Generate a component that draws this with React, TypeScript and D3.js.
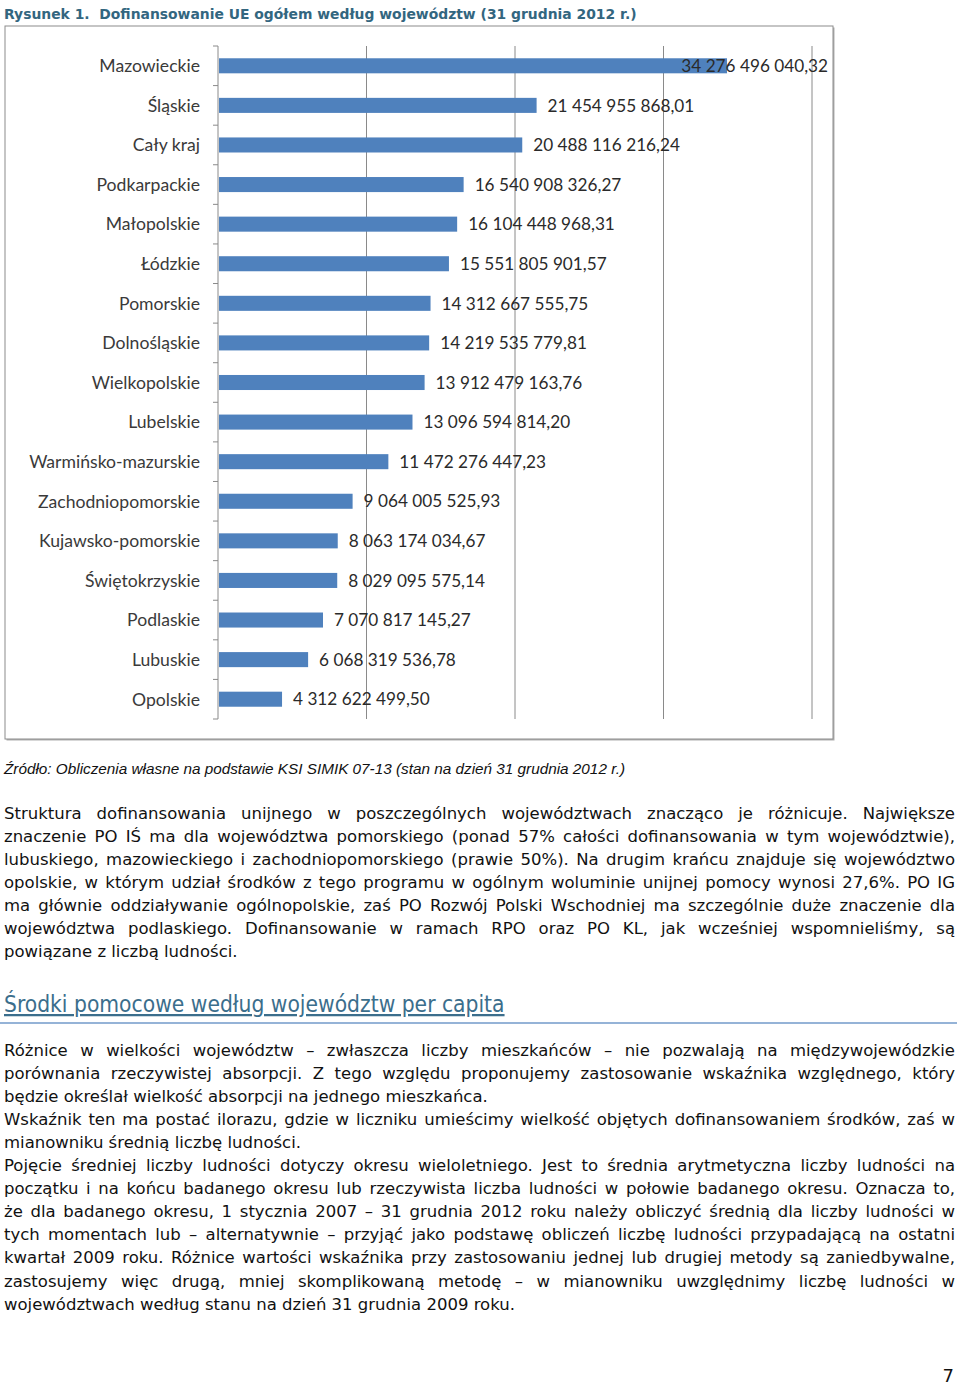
import React from 'react';
import * as d3 from 'd3';

// --- data ---
const regions = [
  'Mazowieckie', 'Śląskie', 'Cały kraj', 'Podkarpackie', 'Małopolskie', 'Łódzkie',
  'Pomorskie', 'Dolnośląskie', 'Wielkopolskie', 'Lubelskie', 'Warmińsko-mazurskie',
  'Zachodniopomorskie', 'Kujawsko-pomorskie', 'Świętokrzyskie', 'Podlaskie', 'Lubuskie', 'Opolskie'
];
const funding = [
  34276496040.32, 21454955868.01, 20488116216.24, 16540908326.27, 16104448968.31,
  15551805901.57, 14312667555.75, 14219535779.81, 13912479163.76, 13096594814.2,
  11472276447.23, 9064005525.93, 8063174034.67, 8029095575.14, 7070817145.27,
  6068319536.78, 4312622499.5
];
const gridTicks = [0, 10e9, 20e9, 30e9, 40e9];

const figureTitle = 'Rysunek 1.  Dofinansowanie UE ogółem według województw (31 grudnia 2012 r.)';
const sourceNote = 'Źródło: Obliczenia własne na podstawie KSI SIMIK 07-13 (stan na dzień 31 grudnia 2012 r.)';
const sectionHeading = 'Środki pomocowe według województw per capita';

// each paragraph: lines as broken in the original, last one left-aligned
const paragraph1 = [
  'Struktura dofinansowania unijnego w poszczególnych województwach znacząco je różnicuje. Największe',
  'znaczenie PO IŚ ma dla województwa pomorskiego (ponad 57% całości dofinansowania w tym województwie),',
  'lubuskiego, mazowieckiego i zachodniopomorskiego (prawie 50%). Na drugim krańcu znajduje się województwo',
  'opolskie, w którym udział środków z tego programu w ogólnym woluminie unijnej pomocy wynosi 27,6%. PO IG',
  'ma głównie oddziaływanie ogólnopolskie, zaś PO Rozwój Polski Wschodniej ma szczególnie duże znaczenie dla',
  'województwa podlaskiego. Dofinansowanie w ramach RPO oraz PO KL, jak wcześniej wspomnieliśmy, są',
  'powiązane z liczbą ludności.'
];
const paragraph2 = [
  'Różnice w wielkości województw – zwłaszcza liczby mieszkańców – nie pozwalają na międzywojewódzkie',
  'porównania rzeczywistej absorpcji. Z tego względu proponujemy zastosowanie wskaźnika względnego, który',
  'będzie określał wielkość absorpcji na jednego mieszkańca.'
];
const paragraph3 = [
  'Wskaźnik ten ma postać ilorazu, gdzie w liczniku umieścimy wielkość objętych dofinansowaniem środków, zaś w',
  'mianowniku średnią liczbę ludności.'
];
const paragraph4 = [
  'Pojęcie średniej liczby ludności dotyczy okresu wieloletniego. Jest to średnia arytmetyczna liczby ludności na',
  'początku i na końcu badanego okresu lub rzeczywista liczba ludności w połowie badanego okresu. Oznacza to,',
  'że dla badanego okresu, 1 stycznia 2007 – 31 grudnia 2012 roku należy obliczyć średnią dla liczby ludności w',
  'tych momentach lub – alternatywnie – przyjąć jako podstawę obliczeń liczbę ludności przypadającą na ostatni',
  'kwartał 2009 roku. Różnice wartości wskaźnika przy zastosowaniu jednej lub drugiej metody są zaniedbywalne,',
  'zastosujemy więc drugą, mniej skomplikowaną metodę – w mianowniku uwzględnimy liczbę ludności w',
  'województwach według stanu na dzień 31 grudnia 2009 roku.'
];
const pageNumber = '7';

const plFormat = d3.formatLocale({ decimal: ',', thousands: ' ', grouping: [3], currency: ['', ''] }).format(',.2f');

const BODY_SIZE = 16.5;
const BODY_FONT = `${BODY_SIZE}px "DejaVu Sans"`;
const CAT_FONT_SIZE = 17.6;
const VALUE_FONT_SIZE = 17.2;
const VALUE_FONT = `${VALUE_FONT_SIZE}px Lato`;

let ctx: CanvasRenderingContext2D | null = null;
const measure = (text: string, font: string) => {
  if (!ctx) ctx = document.createElement('canvas').getContext('2d');
  if (!ctx) return text.length * 8;
  ctx.font = font;
  return ctx.measureText(text).width;
};

// justified line: words spread between left and right
const JustifiedLine: React.FC<{ text: string; y: number; left: number; right: number; justify: boolean }> = ({
  text, y, left, right, justify
}) => {
  if (!justify) {
    return <text x={left} y={y}>{text}</text>;
  }
  const words = text.split(' ');
  const widths = words.map(w => measure(w, BODY_FONT));
  const gap = (right - left - d3.sum(widths)) / (words.length - 1);
  let cx = left;
  return (
    <text y={y}>
      {words.map((w, i) => {
        const x = cx;
        cx += widths[i] + gap;
        return <tspan key={i} x={x}>{w}</tspan>;
      })}
    </text>
  );
};

const App: React.FC = () => {
  const width = 960;
  const height = 1386;

  // chart frame & plot area
  const frame = { x: 5, y: 26, w: 828, h: 713 };
  const plot = { left: 218, top: 46, bottom: 719 };

  const x = d3.scaleLinear().domain([0, 40e9]).range([plot.left, 812]);
  const y = d3.scaleBand<string>()
    .domain(regions)
    .range([plot.top, plot.bottom])
    .paddingInner(0.62)
    .paddingOuter(0.31);
  const step = y.step();
  const labelLimit = x(40e9) + 16;

  const textLeft = 4;
  const textRight = 955;
  const lineH = 23.05;

  const p1Top = 819;
  const p2Top = 1056;
  const restParas = [paragraph2, paragraph3, paragraph4];

  let lineIdx = 0;
  const restLines: { text: string; y: number; justify: boolean }[] = [];
  restParas.forEach(p => {
    p.forEach((t, i) => {
      restLines.push({ text: t, y: p2Top + lineIdx * lineH, justify: i < p.length - 1 });
      lineIdx++;
    });
  });

  return (
    <div style={{ position: 'absolute', left: 0, top: 0 }}>
      <svg width={width} height={height} style={{ display: 'block', background: '#fff' }}>
        {/* Figure title */}
        <text x={4} y={19} fontFamily='"DejaVu Sans"' fontWeight="bold" fontSize={13.9} fill="#33667f"
          style={{ whiteSpace: 'pre' }}>
          {figureTitle}
        </text>

        {/* Chart frame with a small shadow */}
        <rect x={frame.x + 1.5} y={frame.y + 1.5} width={frame.w} height={frame.h} fill="#b0b0b0" />
        <rect x={frame.x} y={frame.y} width={frame.w} height={frame.h} fill="#fff" stroke="#8c8c8c" strokeWidth={1} />

        {/* Gridlines */}
        {gridTicks.slice(1).map(t => (
          <line key={t} x1={x(t)} x2={x(t)} y1={plot.top} y2={plot.bottom} stroke="#8a8a8a" strokeWidth={1} />
        ))}

        {/* Category axis */}
        <line x1={plot.left} x2={plot.left} y1={plot.top} y2={plot.bottom} stroke="#8a8a8a" strokeWidth={1} />
        {d3.range(regions.length + 1).map(i => (
          <line key={i} x1={plot.left - 5} x2={plot.left}
            y1={plot.top + i * step} y2={plot.top + i * step} stroke="#8a8a8a" strokeWidth={1} />
        ))}

        {/* Bars */}
        {regions.map((r, i) => (
          <rect key={r} x={x(0) + 1} y={y(r)} width={x(funding[i]) - x(0) - 1} height={y.bandwidth()} fill="#4f81bd" />
        ))}

        {/* Category labels */}
        <g fontFamily="Lato" fontSize={CAT_FONT_SIZE} fill="#3a3a3a" textAnchor="end">
          {regions.map(r => (
            <text key={r} x={plot.left - 18} y={(y(r) || 0) + y.bandwidth() / 2} dy="0.36em">{r}</text>
          ))}
        </g>

        {/* Value labels */}
        <g fontFamily="Lato" fontSize={VALUE_FONT_SIZE} fill="#2a2a2a">
          {regions.map((r, i) => {
            const label = plFormat(funding[i]);
            const w = measure(label, VALUE_FONT);
            const lx = Math.min(x(funding[i]) + 11, labelLimit - w);
            return (
              <text key={r} x={lx} y={(y(r) || 0) + y.bandwidth() / 2} dy="0.36em">{label}</text>
            );
          })}
        </g>

        {/* Source */}
        <text x={4} y={774} fontFamily='"Liberation Sans"' fontStyle="italic" fontSize={15.3} fill="#111">
          {sourceNote}
        </text>

        {/* Body paragraph 1 */}
        <g fontFamily='"DejaVu Sans"' fontSize={BODY_SIZE} fill="#111">
          {paragraph1.map((t, i) => (
            <JustifiedLine key={i} text={t} y={p1Top + i * lineH} left={textLeft} right={textRight}
              justify={i < paragraph1.length - 1} />
          ))}
        </g>

        {/* Section heading */}
        <text x={4} y={1012} fontFamily='"DejaVu Sans Condensed", "DejaVu Sans"' fontStretch="condensed"
          fontSize={22.6} fill="#3b6e8c" textDecoration="underline">
          {sectionHeading}
        </text>
        <line x1={0} x2={957} y1={1023} y2={1023} stroke="#95b3d7" strokeWidth={2} />

        {/* Remaining paragraphs */}
        <g fontFamily='"DejaVu Sans"' fontSize={BODY_SIZE} fill="#111">
          {restLines.map((l, i) => (
            <JustifiedLine key={i} text={l.text} y={l.y} left={textLeft} right={textRight} justify={l.justify} />
          ))}
        </g>

        {/* Page number */}
        <text x={954} y={1382} textAnchor="end" fontFamily='"DejaVu Sans"' fontSize={18} fill="#111">
          {pageNumber}
        </text>
      </svg>
    </div>
  );
};

export default App;
